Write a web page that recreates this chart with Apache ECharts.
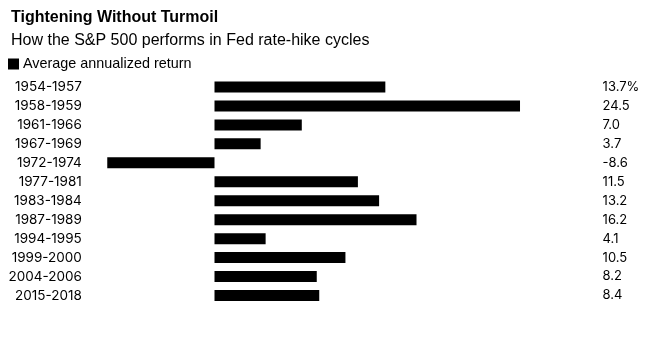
<!DOCTYPE html>
<html>
<head>
<meta charset="utf-8">
<script src="https://cdn.jsdelivr.net/npm/echarts@6/dist/echarts.min.js"></script>
<style>
  html, body { margin: 0; padding: 0; background: #fff; }
  #chart { width: 672px; height: 344px; }
</style>
</head>
<body>
<div id="chart"></div>
<script>
// Fed rate-hike cycles and the S&P 500's average annualized return in each
const cycles = ['1954-1957', '1958-1959', '1961-1966', '1967-1969', '1972-1974', '1977-1981',
                '1983-1984', '1987-1989', '1994-1995', '1999-2000', '2004-2006', '2015-2018'];
const returns = [13.7, 24.5, 7.0, 3.7, -8.6, 11.5, 13.2, 16.2, 4.1, 10.5, 8.2, 8.4];

const FONT = '"Liberation Sans", Arial, Helvetica, sans-serif';
const NUM_FONT = 'Inter, "Liberation Sans", Arial, sans-serif';

// Value column on the right: first entry carries the unit
const returnLabels = returns.map((v, i) => v.toFixed(1) + (i === 0 ? '%' : ''));

const chart = echarts.init(document.getElementById('chart'), null, { renderer: 'canvas' });

chart.setOption({
  backgroundColor: '#ffffff',
  animation: false,
  title: [
    {
      text: 'Tightening Without Turmoil',
      left: 6, top: 5,
      textStyle: { fontFamily: FONT, fontWeight: 'bold', fontSize: 16, color: '#000' }
    },
    {
      text: 'How the S&P 500 performs in Fed rate-hike cycles',
      left: 6, top: 28,
      textStyle: { fontFamily: FONT, fontWeight: 'normal', fontSize: 16, color: '#000' }
    }
  ],
  legend: {
    left: 3, top: 52,
    icon: 'rect',
    itemWidth: 11, itemHeight: 11, itemGap: 6,
    textStyle: { fontFamily: FONT, fontSize: 14.4, color: '#000', padding: [0, 0, 0, -1] },
    data: ['Average annualized return']
  },
  grid: { left: 89.8, right: 83.4, top: 77.5, height: 227.5, containLabel: false },
  xAxis: {
    type: 'value',
    min: -10, max: 30,
    show: false,
    splitLine: { show: false }
  },
  yAxis: [
    {
      type: 'category',
      data: cycles,
      inverse: true,
      position: 'left',
      axisLine: { show: false },
      axisTick: { show: false },
      axisLabel: { fontFamily: NUM_FONT, fontSize: 13.5, color: '#000', margin: 8 }
    },
    {
      type: 'category',
      data: returnLabels,
      inverse: true,
      position: 'right',
      axisLine: { show: false },
      axisTick: { show: false },
      axisLabel: { fontFamily: NUM_FONT, fontSize: 13, color: '#000', margin: 14, align: 'left' }
    }
  ],
  series: [
    {
      name: 'Average annualized return',
      type: 'bar',
      yAxisIndex: 0,
      data: returns,
      barWidth: 11,
      itemStyle: { color: '#000' }
    }
  ]
});
</script>
</body>
</html>
